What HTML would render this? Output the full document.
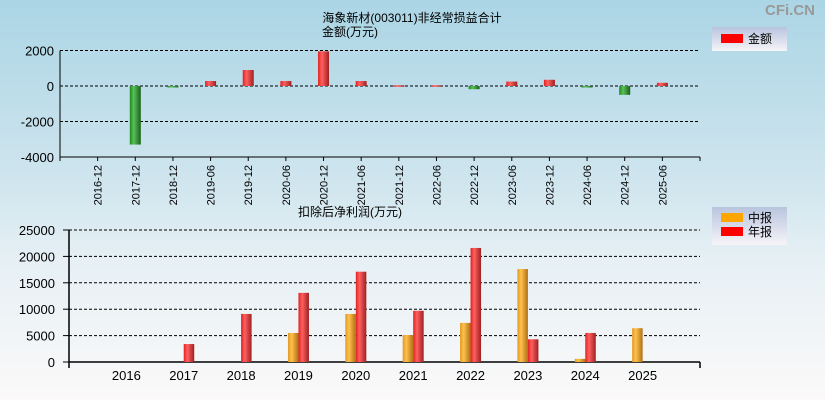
<!DOCTYPE html>
<html><head><meta charset="utf-8">
<style>
html,body{margin:0;padding:0;width:825px;height:400px;overflow:hidden;}
body{background:linear-gradient(#abd5e5 0%,#cfe5ee 45%,#e6f0f5 65%,#fbf9f9 100%);font-family:"Liberation Sans","Noto Sans CJK SC",sans-serif;}
svg text{font-family:"Liberation Sans","Noto Sans CJK SC",sans-serif;}
</style></head>
<body>
<svg id="c" width="825" height="400" xmlns="http://www.w3.org/2000/svg">
<defs>
<linearGradient id="gr" x1="0" x2="1"><stop offset="0" stop-color="#e02020"/><stop offset="0.35" stop-color="#ff6060"/><stop offset="1" stop-color="#a02020"/></linearGradient>
<linearGradient id="gg" x1="0" x2="1"><stop offset="0" stop-color="#1a8a1a"/><stop offset="0.35" stop-color="#5ac05a"/><stop offset="1" stop-color="#1a601a"/></linearGradient>
<linearGradient id="go" x1="0" x2="1"><stop offset="0" stop-color="#e09a20"/><stop offset="0.35" stop-color="#ffc050"/><stop offset="1" stop-color="#b07010"/></linearGradient>
<linearGradient id="lg" x1="0" x2="0" y1="0" y2="1"><stop offset="0" stop-color="#b8c4de"/><stop offset="1" stop-color="#f6f4f8"/></linearGradient>
</defs>
<text x="790" y="15" font-size="15" font-weight="bold" fill="#999" text-anchor="middle">CFi.CN</text>
<text x="412" y="22" font-size="12" text-anchor="middle">海象新材(003011)非经常损益合计</text>
<text x="350" y="36" font-size="12" text-anchor="middle">金额(万元)</text>
<text x="350" y="216" font-size="12" text-anchor="middle">扣除后净利润(万元)</text>
<g>
<rect x="712" y="27" width="75" height="24" fill="url(#lg)"/>
<rect x="721" y="34" width="22" height="9" fill="#ff0000"/>
<text x="748" y="43" font-size="12">金额</text>
</g>
<g>
<rect x="712" y="207" width="75" height="38" fill="url(#lg)"/>
<rect x="721" y="213" width="22" height="9" fill="#ffa500"/>
<text x="748" y="222" font-size="12">中报</text>
<rect x="721" y="227" width="22" height="9" fill="#ff0000"/>
<text x="748" y="236" font-size="12">年报</text>
</g>
<g id="top"></g>
<g id="bot"></g>
</svg>
<script>
const topCats=["2016-12","2017-12","2018-12","2019-06","2019-12","2020-06","2020-12","2021-06","2021-12","2022-06","2022-12","2023-06","2023-12","2024-06","2024-12","2025-06"];
const topVals=[0,-3300,-50,280,900,280,1950,280,40,40,-180,250,350,-50,-500,180];
const topTicks=[2000,0,-2000,-4000];
const botYears=["2016","2017","2018","2019","2020","2021","2022","2023","2024","2025"];
const midVals=[0,0,0,5500,9100,5100,7400,17600,600,6400];
const annVals=[0,3400,9100,13100,17100,9700,21600,4300,5500,0];
const botTicks=[25000,20000,15000,10000,5000,0];

const NS="http://www.w3.org/2000/svg";
function mk(p,tag,a){const e=document.createElementNS(NS,tag);for(const k in a)e.setAttribute(k,a[k]);p.appendChild(e);return e;}

// top chart
const T=document.getElementById('top');
const tL=60,tR=700,tStep=(tR-tL)/(topCats.length+1);
const ty=v=>86-(v/2000)*35.5;
const tx=i=>tL+(i+1)*tStep;
topTicks.forEach(v=>{
  if(v!==-4000){const g=mk(T,'line',{x1:tL,x2:tR,y1:ty(v),y2:ty(v),stroke:'#000','stroke-dasharray':'3,2','stroke-width':1});
  
  }
  const t=mk(T,'text',{x:tL-6,y:ty(v)+5,'font-size':13,'text-anchor':'end'});t.textContent=v;
  
  
});
let ax=mk(T,'path',{d:`M${tL},${ty(2000)}V${ty(-4000)}H${tR}M${tR},${ty(-4000)}v4M${tL},${ty(-4000)}v4`,stroke:'#000',fill:'none','stroke-width':1});


topCats.forEach((c,i)=>{
  const x=tx(i),v=topVals[i];
  const tk=mk(T,'line',{x1:x,x2:x,y1:ty(-4000),y2:ty(-4000)+4,stroke:'#000'});
  
  
  const t=mk(T,'text',{x:0,y:0,'font-size':11,'text-anchor':'end',transform:`translate(${x+4},${ty(-4000)+8}) rotate(-90)`});t.textContent=c;
  
  
  if(v!==0){const y0=ty(0),y1=ty(v);
    const r=mk(T,'rect',{x:x-5.5,y:Math.min(y0,y1),width:11,height:Math.max(1.5,Math.abs(y1-y0)),fill:v>0?'url(#gr)':'url(#gg)'});
    
    }
});

// bottom chart
const B=document.getElementById('bot');
const bL=69,bR=700,bStep=(bR-bL)/(botYears.length+1);
const by=v=>362-(v/25000)*132;
const bx=i=>bL+(i+1)*bStep;
botTicks.forEach(v=>{
  if(v!==0){const g=mk(B,'line',{x1:bL,x2:bR,y1:by(v),y2:by(v),stroke:'#000','stroke-dasharray':'3,2','stroke-width':1});
  
  }
  const t=mk(B,'text',{x:bL-14,y:by(v)+5,'font-size':13,'text-anchor':'end'});t.textContent=v;
  
  
  const tk=mk(B,'line',{x1:bL-6,x2:bL,y1:by(v),y2:by(v),stroke:'#000'});
  
  
});
ax=mk(B,'path',{d:`M${bL},${by(25000)}V${by(0)}H${bR}M${bR},${by(0)}v6M${bL},${by(0)}v6`,stroke:'#000',fill:'none','stroke-width':1.5});


botYears.forEach((yv,i)=>{
  const x=bx(i);
  const t=mk(B,'text',{x:x,y:by(0)+18,'font-size':13,'text-anchor':'middle'});t.textContent=yv;
  
  
  if(midVals[i]>0){const r=mk(B,'rect',{x:x-10.5,y:by(midVals[i]),width:10.5,height:by(0)-by(midVals[i]),fill:'url(#go)'});
    
    }
  if(annVals[i]>0){const r=mk(B,'rect',{x:x,y:by(annVals[i]),width:10.5,height:by(0)-by(annVals[i]),fill:'url(#gr)'});
    
    }
});
</script>
</body></html>
